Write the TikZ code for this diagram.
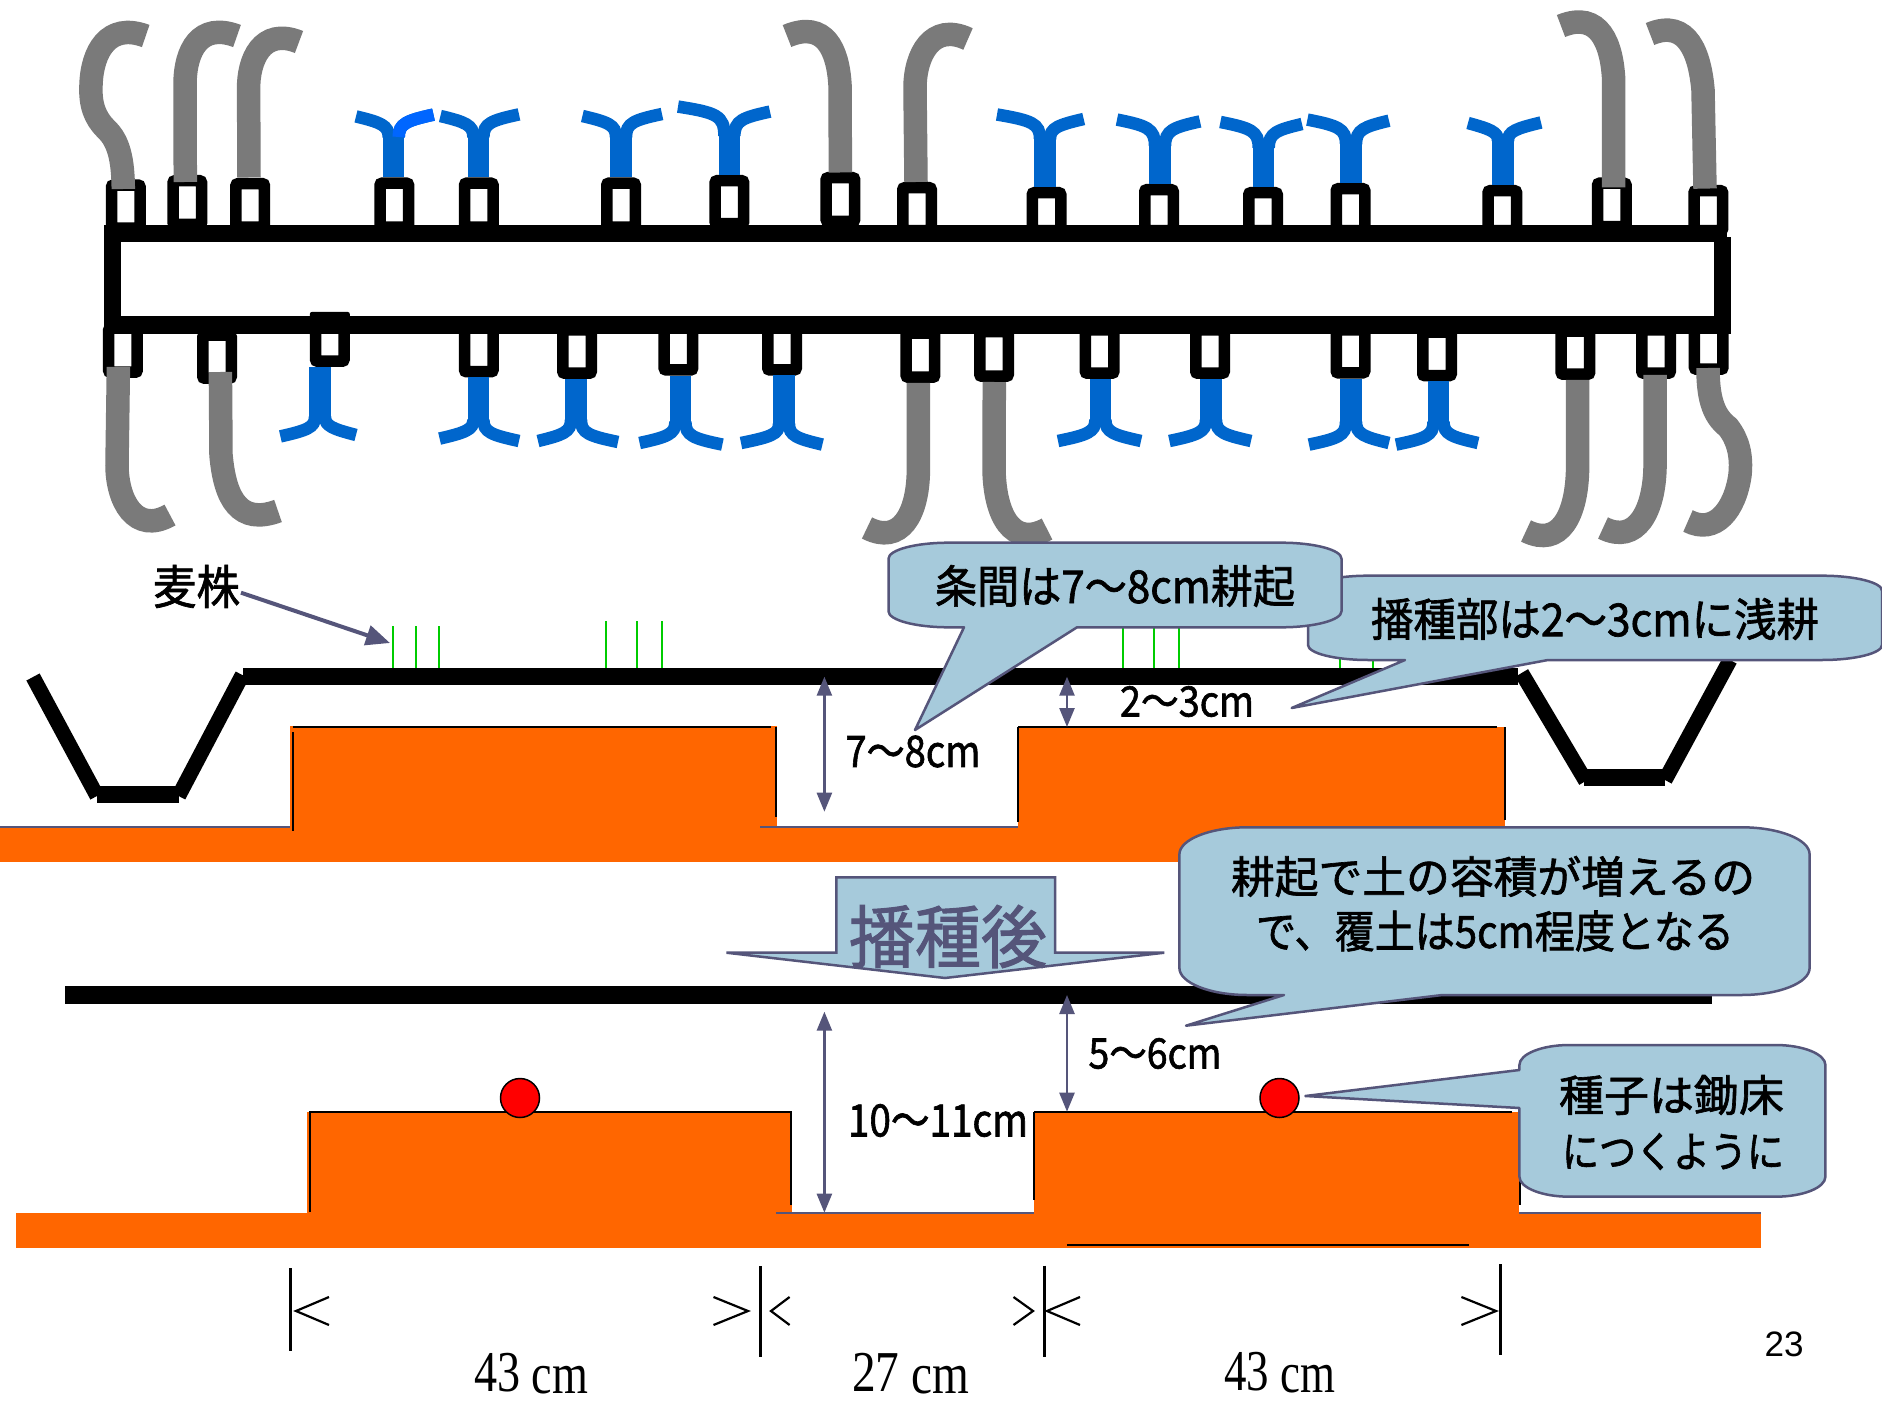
\documentclass[tikz,border=0pt]{standalone}
\usepackage{graphicx}
\usepackage{fontspec}
\setmainfont{Liberation Serif}
\newfontfamily\cjk[FakeBold=1.5]{Noto Sans CJK JP}
\newfontfamily\arialf{Liberation Sans}
\usetikzlibrary{arrows.meta}
\definecolor{slate}{HTML}{55557A}
\definecolor{bubble}{HTML}{A6CADB}
\definecolor{soil}{HTML}{FF6600}
\definecolor{hookgrey}{HTML}{7A7A7A}
\definecolor{forkblue}{HTML}{0066CC}
\definecolor{forkbright}{HTML}{0066FF}
\definecolor{stub}{HTML}{00CC00}
\newcommand\fitbox[3]{\resizebox*{#1pt}{#2pt}{\fontsize{40pt}{48pt}\selectfont #3}}
\newcommand\TC[3]{\draw[clipbox] ({#1-14.25},{#2+5.75}) rectangle ({#1+14.25},{#3+5.75});}
\newcommand\BC[3]{\draw[clipbox] ({#1-14.25},{#2-5.75}) rectangle ({#1+14.25},{#3-5.75});}
\newcommand\forkU[7]{%
  \draw[stem] (#1,#2) -- (#1,#3);
  \draw[arm] ({#1-5},{#3+3}) .. controls ({#1-5},{#5+9}) and ({#1-13},{#5+6}) .. (#4,#5);
  \draw[arm] ({#1+5},{#3+3}) .. controls ({#1+5},{#7+9}) and ({#1+13},{#7+6}) .. (#6,#7);}
\newcommand\forkD[7]{%
  \draw[stem] (#1,#2) -- (#1,#3);
  \draw[arm] ({#1-5},{#3-3}) .. controls ({#1-5},{#5-9}) and ({#1-13},{#5-6}) .. (#4,#5);
  \draw[arm] ({#1+5},{#3-3}) .. controls ({#1+5},{#7-9}) and ({#1+13},{#7-6}) .. (#6,#7);}
% L T R B rx ry bottom-pointer left-pointer
\newcommand\bubblepath[8]{%
  \draw[bubbleshape] ({#1+#5},#2) -- ({#3-#5},#2)
   .. controls ({#3-.45*#5},#2) and (#3,{#2+.45*#6}) .. (#3,{#2+#6})
   -- (#3,{#4-#6})
   .. controls (#3,{#4-.45*#6}) and ({#3-.45*#5},#4) .. ({#3-#5},#4)
   #7 -- ({#1+#5},#4)
   .. controls ({#1+.45*#5},#4) and (#1,{#4-.45*#6}) .. (#1,{#4-#6})
   #8 -- (#1,{#2+#6})
   .. controls (#1,{#2+.45*#6}) and ({#1+.45*#5},#2) .. ({#1+#5},#2) -- cycle;}
\tikzset{
  clipbox/.style={draw=black,fill=white,line width=11.5pt,rounded corners=2pt},
  hook/.style={draw=hookgrey,line width=23.5pt,line cap=butt},
  stem/.style={draw=forkblue,line width=21.5pt,line cap=butt},
  arm/.style={draw=forkblue,line width=12.5pt,line cap=butt},
  armbright/.style={draw=forkbright,line width=12.5pt,line cap=butt},
  bubbleshape/.style={draw=slate,fill=bubble,line width=2.5pt,line join=round},
  txt/.style={inner sep=0pt,outer sep=0pt,anchor=center,text=black},
  dimarrow/.style={draw=slate,line width=2.5pt,{Stealth[length=19pt,width=15pt,inset=0pt]}-{Stealth[length=19pt,width=15pt,inset=0pt]}},
  stubline/.style={draw=stub,line width=1.5pt},
  ground/.style={line cap=butt,line width=17pt,draw=black},
  ditch/.style={line cap=butt,line width=15pt,draw=black},
  edgeline/.style={draw=black,line width=2pt},
  basetop/.style={draw=slate,line width=2pt},
  seed/.style={draw=black,fill=red,line width=1.5pt},
  barline/.style={draw=black,line width=3pt},
  chev/.style={draw=black,line width=2.2pt}
}
\begin{document}
\begin{tikzpicture}[x=1pt,y=-1pt]
\useasboundingbox (0,0) rectangle (1882,1404);
\fill[white] (0,0) rectangle (1882,1404);
% ---- tool bar ----
\fill[black] (104,225) rectangle (1727,242);
\fill[black] (104,316.4) rectangle (1731,334);
\fill[black] (104,225) rectangle (121,316.4);
\fill[black] (1714,237) rectangle (1730.6,334);
% top clips
\TC{125.8}{179.3}{222.5}\TC{187.3}{175}{218.6}\TC{250.2}{178}{221.4}
\TC{394.3}{177.5}{221.4}\TC{478.8}{177.5}{221.4}\TC{621}{177.5}{221.4}
\TC{729.4}{175}{218}\TC{840.4}{172}{215.7}\TC{917}{182}{225}
\TC{1046.5}{187}{225}\TC{1159}{184}{225}\TC{1263}{187}{225}
\TC{1350.5}{183}{225}\TC{1502.3}{185}{225}\TC{1611.8}{177.5}{221}\TC{1708.3}{185}{225}
% bottom clips
\BC{122.9}{334}{378}\BC{217}{341}{384}
\fill[black,rounded corners=2pt] (309.8,312) rectangle (349.8,336);
\BC{329.8}{334}{367}
\BC{478.8}{334}{377.5}\BC{577}{335.7}{379}\BC{678.4}{334}{375.7}
\BC{782}{334}{375.7}\BC{920.4}{339}{383}\BC{994}{337.5}{382}
\BC{1099.6}{335.7}{379}\BC{1210}{335.7}{379}\BC{1350.5}{335.7}{378.6}
\BC{1437}{338}{381.4}\BC{1575.4}{337}{380}\BC{1656}{335.7}{379}\BC{1708.7}{334}{375}
% top forks
\forkU{393.7}{177.5}{134}{356}{116.4}{433.5}{114.6}
\draw[armbright] (398.7,137) .. controls (398.7,123.6) and (406.7,120.6) .. (433.5,114.6);
\forkU{478.4}{177.5}{134}{440.4}{116}{519}{114.4}
\forkU{621}{177.5}{134}{582.4}{116}{662}{114}
\forkU{729.4}{175}{133}{678}{106.6}{770}{111.6}
\forkU{1045}{187}{136}{997}{114.5}{1083.7}{119}
\forkU{1160}{184}{143}{1117}{119.6}{1200}{121.4}
\forkU{1263.7}{187}{144.6}{1220.4}{122}{1302}{124}
\forkU{1351}{183}{141}{1307.4}{119.6}{1389}{120.7}
\forkU{1503}{185}{137.5}{1468}{123}{1541}{122.5}
% bottom forks
\forkD{320}{367}{420}{280.4}{436.4}{356}{435}
\forkD{478.4}{377}{423}{439.6}{438.6}{519}{441}
\forkD{576}{379}{423}{538}{441}{618}{442}
\forkD{680.4}{375.7}{425}{639.6}{443}{722.4}{444.6}
\forkD{784}{375}{427}{741}{443}{822.4}{444.6}
\forkD{1100.4}{379}{423}{1058}{441}{1141}{441}
\forkD{1211}{379}{423}{1169.4}{441}{1251}{441}
\forkD{1351}{378.6}{425}{1309}{444.6}{1389}{443}
\forkD{1438.5}{381}{425}{1396}{444.6}{1478}{443}
% top hooks
\draw[hook] (123.3,189) .. controls (123,160) and (119,141) .. (106,129) .. controls (95,118) and (90,105) .. (91,85) .. controls (92,52) and (108,22) .. (145.7,36);
\draw[hook] (185.3,182) -- (185,85) .. controls (185,50) and (200,22) .. (237,36);
\draw[hook] (249,177.5) -- (248.6,90) .. controls (248,60) and (262,27) .. (299,42);
\draw[hook] (840.4,172.5) -- (840,85) .. controls (838,50) and (825,20) .. (787,36);
\draw[hook] (916,182) -- (915,88) .. controls (915,55) and (932,22) .. (968,39);
\draw[hook] (1613.7,187.5) -- (1613.7,80) .. controls (1612,45) and (1600,10) .. (1561,26);
\draw[hook] (1705,188.6) -- (1703,90) .. controls (1700,55) and (1688,18) .. (1650,34);
% bottom hooks
\draw[hook] (118.4,367) -- (117,465) .. controls (117,500) and (135,535) .. (170,515);
\draw[hook] (220.4,372) -- (221,455) .. controls (225,500) and (240,525) .. (278,511);
\draw[hook] (918.4,383) -- (918.4,470) .. controls (918,515) and (900,545) .. (867,528);
\draw[hook] (994.3,382) -- (994,470) .. controls (995,515) and (1012,548) .. (1047,529);
\draw[hook] (1577.6,380) -- (1577.6,468) .. controls (1577,515) and (1560,548) .. (1526,531);
\draw[hook] (1655,375) -- (1655,468) .. controls (1654,510) and (1637,545) .. (1603,528);
\draw[hook] (1708,368) .. controls (1708,395) and (1712,415) .. (1728,427) .. controls (1738,440) and (1742,455) .. (1740,475) .. controls (1735,510) and (1715,535) .. (1688,521);
% ---- upper soil ----
\fill[soil] (0,826.7) rectangle (1745.5,862);
\fill[soil] (290,726) rectangle (777,862);
\fill[soil] (1018,726.7) rectangle (1505,862);
\draw[edgeline] (293,726.5) -- (771,726.5);
\draw[edgeline] (293,732) -- (293,831);
\draw[edgeline] (776,727) -- (776,817);
\draw[edgeline] (1018,727) -- (1497,727);
\draw[edgeline] (1018,727) -- (1018,822);
\draw[edgeline] (1505,727) -- (1505,820);
\draw[basetop] (0,827) -- (290,827);
\draw[basetop] (760,827) -- (1018,827);
\draw[basetop] (1505,827) -- (1745,827);
% stubble
\foreach \sx in {393,416,439}{\draw[stubline] (\sx,626) -- (\sx,668);}
\foreach \sx in {606,637,662}{\draw[stubline] (\sx,621) -- (\sx,668);}
\foreach \sx in {1123,1154,1179}{\draw[stubline] (\sx,622) -- (\sx,668);}
\foreach \sx in {1340,1373}{\draw[stubline] (\sx,655) -- (\sx,668);}
% ground line and ditches
\draw[ground] (243,676.7) -- (1518,676.7);
\draw[ditch] (33,677) -- (97,796);
\draw[ground] (97.4,794) -- (178.6,794);
\draw[ditch] (178.6,796) -- (242.3,675);
\draw[ditch] (1521.6,673) -- (1585.7,781);
\draw[ground] (1583.5,777.5) -- (1665,777.5);
\draw[ditch] (1665,780) -- (1730,660);
% upper dimension arrows
\coordinate (d1a) at (824.4,676.7);\coordinate (d1b) at (824.4,811.7);
\draw[dimarrow] (d1a) -- (d1b);
\coordinate (d2a) at (1067,676.7);\coordinate (d2b) at (1067,727);
\draw[dimarrow] (d2a) -- (d2b);
% label arrow
\node[txt] (mugi) at (196.5,586.5) {\fitbox{87}{43}{\cjk 麦株}};
\coordinate (mugitip) at (390,643);
\draw[draw=slate,line width=4pt,-{Stealth[length=24pt,width=20pt,inset=0pt]}] (241,592.7) -- (mugitip);
% callouts
\bubblepath{1308}{575.7}{1882}{660}{60}{15}{-- (1548,660) -- (1291.7,708) -- (1405,660)}{}
\bubblepath{888.5}{542.7}{1341.5}{627.3}{60}{16}{-- (1077,627.3) -- (915,730) -- (964,627.3)}{}
\node[txt] (c1) at (1115,586) {\fitbox{360}{42}{\cjk 条間は7～8cm耕起}};
\node[txt] (c2) at (1595,619) {\fitbox{448}{42}{\cjk 播種部は2～3cmに浅耕}};
\node[txt] (l23) at (1187,701.5) {\fitbox{134}{31}{\cjk 2～3cm}};
\node[txt] (l78) at (913,751.5) {\fitbox{135}{32}{\cjk 7～8cm}};
% ---- after sowing ----
\draw[ground,line width=18pt] (65,995) -- (1712,995);
\draw[draw=slate,fill=bubble,line width=2.5pt,line join=miter] (836.4,877.3) -- (1055,877.3) -- (1055,952.7) -- (1164.3,952.7) -- (945,978) -- (726.4,952.7) -- (836.4,952.7) -- cycle;
\node[txt,text=slate] (hg) at (948,936.5) {\fitbox{198}{63}{\cjk 播種後}};
\bubblepath{1179.4}{827.3}{1809.6}{995}{68}{27}{-- (1442.5,995) -- (1186,1025.7) -- (1284,995)}{}
\node[txt] (c3a) at (1493,876.5) {\fitbox{524}{41}{\cjk 耕起で土の容積が増えるの}};
\node[txt] (c3b) at (1495,931) {\fitbox{478}{41}{\cjk で、覆土は5cm程度となる}};
% lower soil
\fill[soil] (15.6,1212.7) rectangle (1761,1247.7);
\fill[soil] (307,1112) rectangle (792,1247.7);
\fill[soil] (1034,1112) rectangle (1519,1247.7);
\draw[edgeline] (309,1112) -- (792,1112);
\draw[edgeline] (309.6,1112) -- (309.6,1212);
\draw[edgeline] (791,1112) -- (791,1205);
\draw[edgeline] (1034,1112) -- (1512,1112);
\draw[edgeline] (1034,1112) -- (1034,1200);
\draw[edgeline] (1519.5,1112) -- (1519.5,1205);
\draw[basetop] (776,1213) -- (1034,1213);
\draw[basetop] (1519,1213) -- (1761,1213);
\draw[edgeline] (1067,1245) -- (1469,1245);
\node[seed,circle,minimum size=39pt,inner sep=0pt] (s1) at (520,1098) {};
\node[seed,circle,minimum size=39pt,inner sep=0pt] (s2) at (1279.5,1098) {};
\bubblepath{1519.4}{1045}{1825.4}{1196.7}{50}{20}{}{-- (1519.4,1108) -- (1305.3,1096) -- (1519.4,1070)}
\node[txt] (c4a) at (1671.5,1095) {\fitbox{225}{40}{\cjk 種子は鋤床}};
\node[txt] (c4b) at (1673,1151.5) {\fitbox{222}{37}{\cjk につくように}};
\coordinate (d3a) at (824.4,1011.7);\coordinate (d3b) at (824.4,1212.7);
\draw[dimarrow] (d3a) -- (d3b);
\coordinate (d4a) at (1067,995);\coordinate (d4b) at (1067,1111.7);
\draw[dimarrow] (d4a) -- (d4b);
\node[txt] (l56) at (1155,1053.5) {\fitbox{133}{31}{\cjk 5～6cm}};
\node[txt] (l1011) at (938,1120.5) {\fitbox{180}{33}{\cjk 10～11cm}};
% width bars
\draw[barline] (290.6,1268) -- (290.6,1350.7);
\draw[barline] (760.4,1266) -- (760.4,1357);
\draw[barline] (1044.8,1265.7) -- (1044.8,1356.7);
\draw[barline] (1500,1264) -- (1500,1355);
\draw[chev] (329,1297) -- (296,1311) -- (329,1325);
\draw[chev] (713.5,1297) -- (748,1311) -- (713.5,1325);
\draw[chev] (789.6,1297) -- (771,1311) -- (789.6,1325);
\draw[chev] (1013.5,1297) -- (1033,1311) -- (1013.5,1325);
\draw[chev] (1080,1297) -- (1047,1311) -- (1080,1325);
\draw[chev] (1461.4,1297) -- (1496,1311) -- (1461.4,1325);
\node[txt] (w1) at (531,1373.5) {\fitbox{114}{41}{43 \raisebox{-1.5pt}{cm}}};
\node[txt] (w2) at (910.5,1373.5) {\fitbox{117}{41}{27 \raisebox{-1.5pt}{cm}}};
\node[txt] (w3) at (1279.5,1373) {\fitbox{111}{41}{43 \raisebox{-1.5pt}{cm}}};
\node[txt] (pg) at (1784,1344) {\fitbox{39}{25}{\arialf 23}};
\end{tikzpicture}
\end{document}
